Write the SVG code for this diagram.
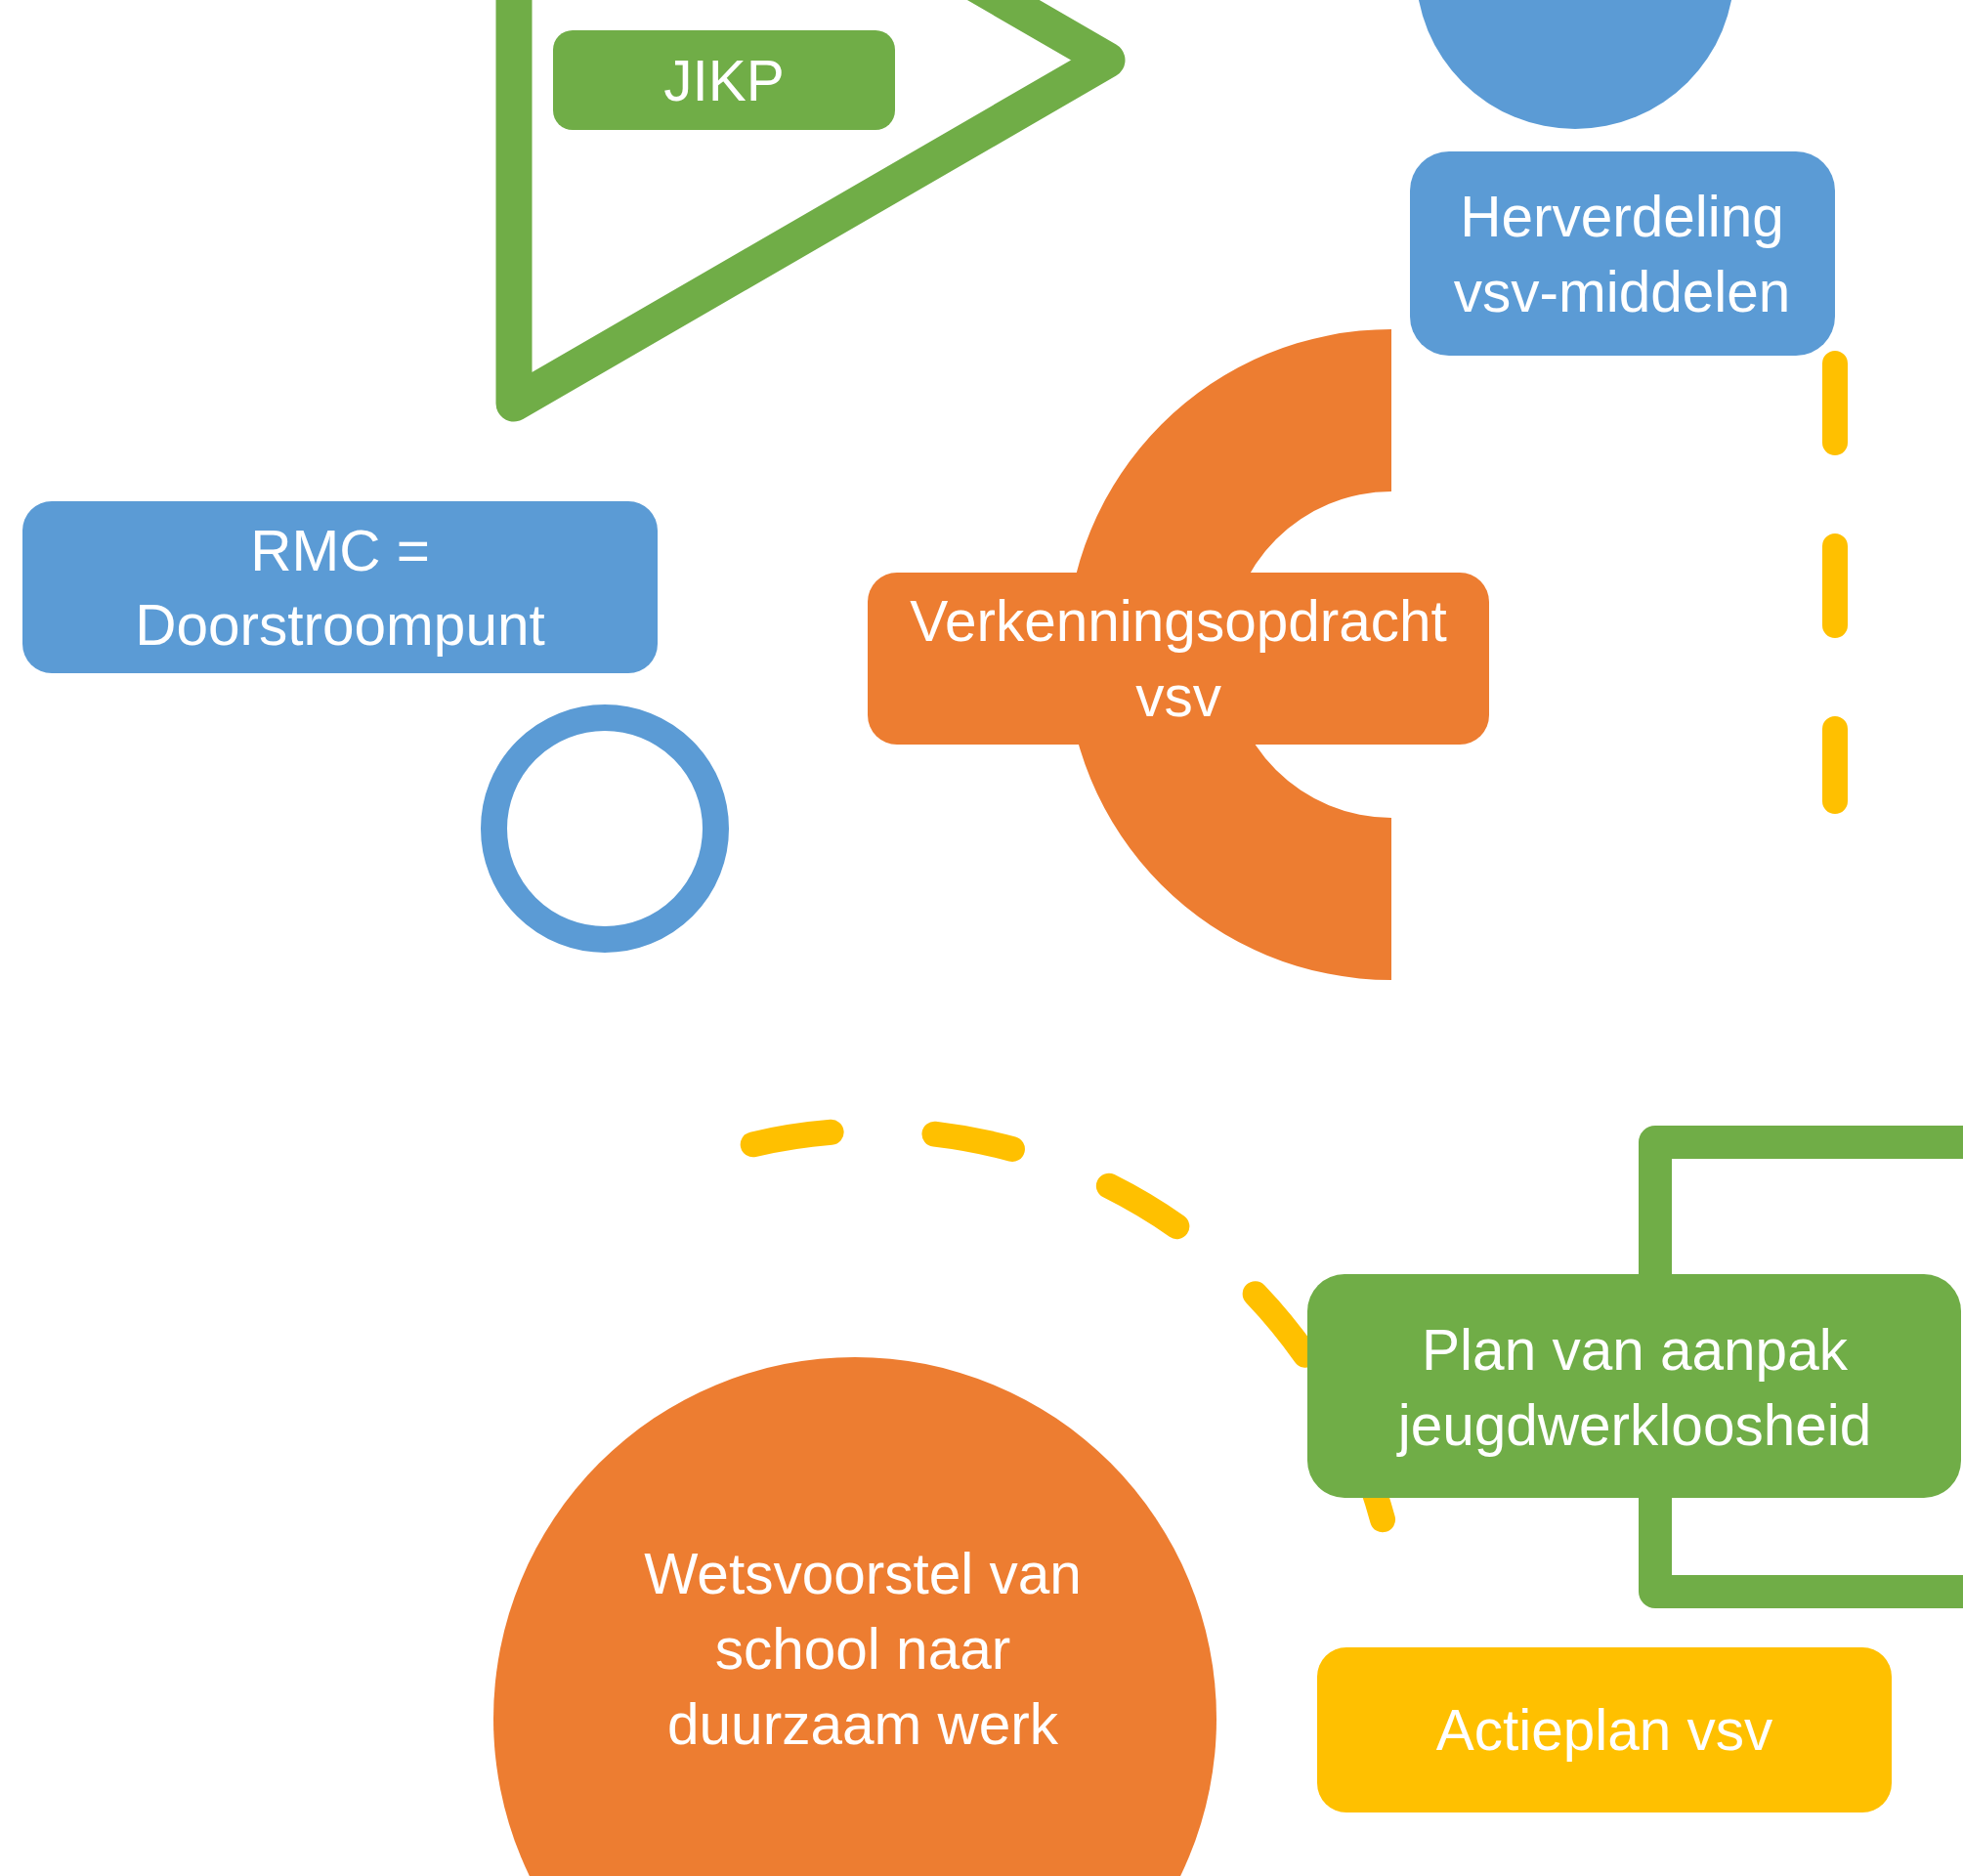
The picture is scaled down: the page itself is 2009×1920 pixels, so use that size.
<svg xmlns="http://www.w3.org/2000/svg" width="2009" height="1920" viewBox="0 0 2009 1920">
<style>
.t{font-family:"Liberation Sans",Arial,sans-serif;font-size:58.5px;fill:#fff;text-anchor:middle}
.blue{fill:#5B9BD5}
.green{fill:#70AD47}
.orange{fill:#ED7D31}
.yellow{fill:#FFC000}
.dash{fill:none;stroke:#FFC000;stroke-width:26;stroke-linecap:round;stroke-dasharray:81 106}
</style>
<rect width="2009" height="1920" fill="#fff"/>
<g id="jikp-flag">
<path d="M526 -290 L1133 61.5 L526 413 Z" fill="none" stroke="#70AD47" stroke-width="37" stroke-linejoin="round"/>
</g>
<g id="jikp">
<rect class="green" x="566" y="31" width="350" height="102" rx="20"/>
<text class="t" x="741" y="103">JIKP</text>
</g>
<g id="blue-disc-top">
<circle class="blue" cx="1612" cy="-31" r="163"/>
</g>
<g id="herverdeling">
<rect class="blue" x="1443" y="155" width="435" height="209" rx="40"/>
<text class="t" x="1660" y="242">Herverdeling</text>
<text class="t" x="1660" y="319">vsv-middelen</text>
</g>
<g id="verkenning-arc">
<path class="orange" d="M1424 337 A333 333 0 0 0 1424 1003 L1424 837 A167 167 0 0 1 1424 503 Z"/>
</g>
<g id="verkenningsopdracht">
<rect class="orange" x="888" y="586" width="636" height="176" rx="30"/>
<text class="t" x="1206" y="656">Verkenningsopdracht</text>
<text class="t" x="1206" y="733">vsv</text>
</g>
<g id="rmc">
<rect class="blue" x="23" y="513" width="650" height="176" rx="30"/>
<text class="t" x="348" y="584">RMC =</text>
<text class="t" x="348" y="660">Doorstroompunt</text>
</g>
<g id="blue-ring">
<circle cx="619" cy="848" r="113.5" fill="none" stroke="#5B9BD5" stroke-width="27"/>
</g>
<g id="wetsvoorstel">
<circle class="orange" cx="875" cy="1759" r="370"/>
<text class="t" x="883" y="1631">Wetsvoorstel van</text>
<text class="t" x="883" y="1708">school naar</text>
<text class="t" x="883" y="1785">duurzaam werk</text>
</g>
<g id="connectors">
<path class="dash" d="M1878 372 L1878 820"/>
<path class="dash" d="M770.7 1171.3 A540 540 0 0 1 1416.8 1561.8"/>
</g>
<g id="bracket">
<rect x="1694" y="1169" width="500" height="460" fill="none" stroke="#70AD47" stroke-width="34" stroke-linejoin="round"/>
</g>
<g id="plan">
<rect class="green" x="1338" y="1304" width="669" height="229" rx="38"/>
<text class="t" x="1673" y="1402">Plan van aanpak</text>
<text class="t" x="1673" y="1479">jeugdwerkloosheid</text>
</g>
<g id="actieplan">
<rect class="yellow" x="1348" y="1686" width="588" height="169" rx="30"/>
<text class="t" x="1642" y="1791">Actieplan vsv</text>
</g>
</svg>
